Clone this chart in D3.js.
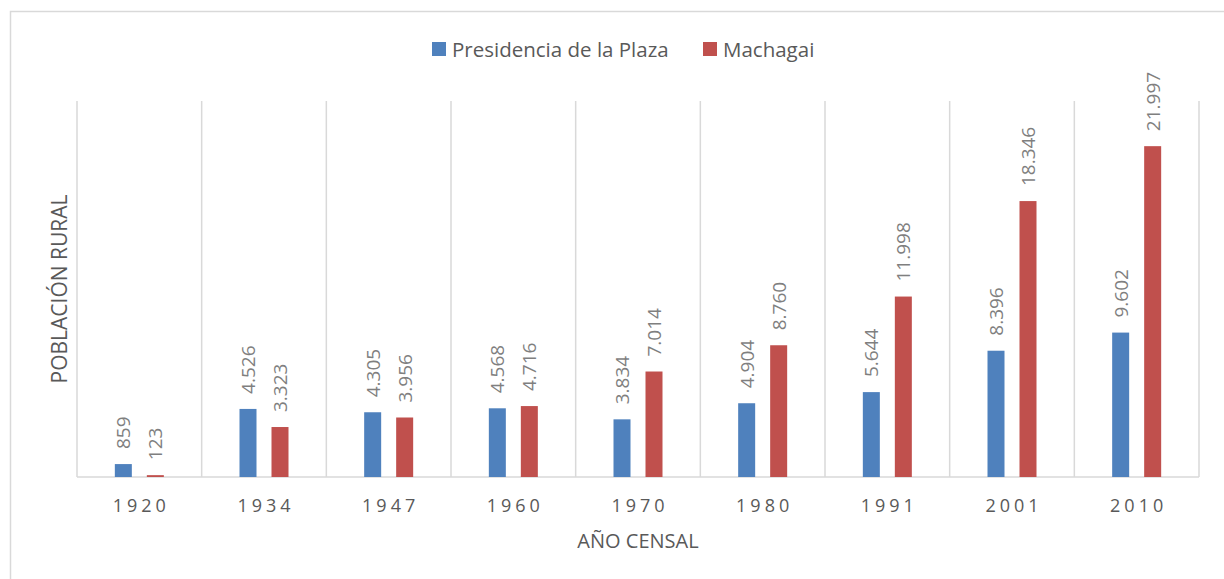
<!DOCTYPE html>
<html>
<head>
<meta charset="utf-8">
<script src="https://cdn.jsdelivr.net/npm/d3@7"></script>
<style>
  body { margin: 0; background: #fff; }
  svg { display: block; font-family: "Open Sans", "Noto Sans", sans-serif; }
</style>
</head>
<body>
<svg id="chart" width="1224" height="579"></svg>
<script>
// Census years and rural population per department
let years = ['1920', '1934', '1947', '1960', '1970', '1980', '1991', '2001', '2010'];
let presidencia = [859, 4526, 4305, 4568, 3834, 4904, 5644, 8396, 9602];
let machagai = [123, 3323, 3956, 4716, 7014, 8760, 11998, 18346, 21997];
let seriesNames = ['Presidencia de la Plaza', 'Machagai'];
let seriesColors = ['#4f81bd', '#c0504d'];

let fmt = (v) => d3.format(',')(v).replace(/,/g, '.');

let drawChart = () => {
    let svg = d3.select('#chart');
    let margin = { top: 101, left: 77, right: 25, bottom: 102 };
    let width = 1224 - margin.left - margin.right;
    let height = 579 - margin.top - margin.bottom;

    // Outer frame (only top and left edges show in the picture)
    svg.append('rect')
        .attr('x', 10.5).attr('y', 11.5)
        .attr('width', 1300).attr('height', 700)
        .attr('fill', 'none')
        .attr('stroke', '#d9d9d9')
        .attr('stroke-width', 1.5);

    let g = svg.append('g')
        .attr('transform', `translate(${margin.left},${margin.top})`);

    let x = d3.scaleBand().domain(years).range([0, width]);
    let y = d3.scaleLinear().domain([0, 25000]).range([height, 0]);

    // Category separator lines
    let edges = years.map((d) => x(d)).concat([width]);
    g.selectAll('.sep')
        .data(edges)
        .enter()
        .append('line')
        .attr('x1', (d) => d).attr('x2', (d) => d)
        .attr('y1', 0).attr('y2', height)
        .attr('stroke', '#d9d9d9')
        .attr('stroke-width', 1.5);

    // Baseline
    g.append('line')
        .attr('x1', 0).attr('x2', width)
        .attr('y1', height).attr('y2', height)
        .attr('stroke', '#d9d9d9')
        .attr('stroke-width', 1.5);

    // Bars and labels
    let barW = 17;
    let offsets = [-16, 16];
    [presidencia, machagai].forEach((vals, i) => {
        let data = years.map((yr, k) => ({ yr, v: vals[k] }));
        let cx = (d) => x(d.yr) + x.bandwidth() / 2 + offsets[i];
        g.selectAll('.bar' + i)
            .data(data)
            .enter()
            .append('rect')
            .attr('x', (d) => cx(d) - barW / 2)
            .attr('y', (d) => y(d.v))
            .attr('width', barW)
            .attr('height', (d) => height - y(d.v))
            .attr('fill', seriesColors[i]);

        g.selectAll('.lbl' + i)
            .data(data)
            .enter()
            .append('text')
            .attr('transform', (d) => `translate(${cx(d) + 7},${y(d.v) - 15}) rotate(-90)`)
            .attr('font-size', 19)
            .attr('fill', '#7f7f7f')
            .text((d) => fmt(d.v));
    });

    // X tick labels
    g.selectAll('.tick-lbl')
        .data(years)
        .enter()
        .append('text')
        .attr('x', (d) => x(d) + x.bandwidth() / 2 + 2)
        .attr('y', height + 35)
        .attr('text-anchor', 'middle')
        .attr('font-size', 18)
        .attr('letter-spacing', 4)
        .attr('fill', '#595959')
        .text((d) => d);

    // Axis titles
    svg.append('text')
        .attr('x', 638).attr('y', 548)
        .attr('text-anchor', 'middle')
        .attr('font-size', 20)
        .attr('fill', '#595959')
        .text('AÑO CENSAL');

    svg.append('text')
        .attr('transform', 'translate(67,289) rotate(-90)')
        .attr('text-anchor', 'middle')
        .attr('font-size', 21)
        .attr('fill', '#595959')
        .text('POBLACIÓN RURAL');

    // Legend
    let legendX = [432, 703];
    seriesNames.forEach((name, i) => {
        svg.append('rect')
            .attr('x', legendX[i]).attr('y', 42)
            .attr('width', 14).attr('height', 14)
            .attr('fill', seriesColors[i]);
        svg.append('text')
            .attr('x', legendX[i] + 20).attr('y', 57)
            .attr('font-size', 20.5)
            .attr('fill', '#595959')
            .text(name);
    });
};

drawChart();
</script>
</body>
</html>
